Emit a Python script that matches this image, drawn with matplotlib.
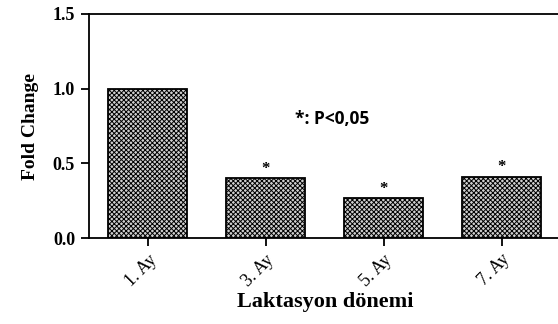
import matplotlib.pyplot as plt
import numpy as np

categories = ["1. Ay", "3. Ay", "5. Ay", "7. Ay"]
fold_change = [1.0, 0.40, 0.265, 0.41]
significant = [False, True, True, True]

plt.rcParams['hatch.linewidth'] = 0.7
plt.rcParams['hatch.color'] = '#222222'

fig = plt.figure(figsize=(5.58, 3.24), dpi=100)
ax = fig.add_axes([0.1595, 0.2654, 0.845, 0.6914])

x = np.arange(len(categories))
ax.bar(x, fold_change, width=0.67, facecolor='#d0d0d0', edgecolor='black',
       linewidth=1.3, hatch='xxxxxxx')

for xi, v, s in zip(x, fold_change, significant):
    if s:
        ax.text(xi, v + 0.01, '*', ha='center', va='bottom', fontsize=12,
                fontweight='bold', family='Liberation Serif')

ax.text(1.56, 0.80, '*: P<0,05', fontsize=12.5, fontweight='bold',
        family='Open Sans', ha='center', va='center')

ax.set_xlim(-0.5, 3.5)
ax.set_ylim(0, 1.5)
ax.set_yticks([0.0, 0.5, 1.0, 1.5])
ax.set_yticklabels(['0.0', '0.5', '1.0', '1.5'], family='Liberation Serif',
                   fontweight='bold', fontsize=13)
ax.set_xticks(x)
ax.set_xticklabels(categories, rotation=45, ha='right', rotation_mode='anchor',
                   family='Liberation Serif', fontsize=13)
ax.tick_params(direction='out', length=6, width=1.3)
ax.tick_params(axis='y', pad=4)

for side in ['left', 'bottom', 'top']:
    ax.spines[side].set_linewidth(1.3)
ax.spines['right'].set_visible(False)

ax.set_ylabel('Fold Change', family='Liberation Serif', fontweight='bold',
              fontsize=14, labelpad=10)
ax.set_xlabel('Laktasyon dönemi', family='Liberation Serif',
              fontweight='bold', fontsize=16, labelpad=2)

fig.savefig('out.png', dpi=100)
